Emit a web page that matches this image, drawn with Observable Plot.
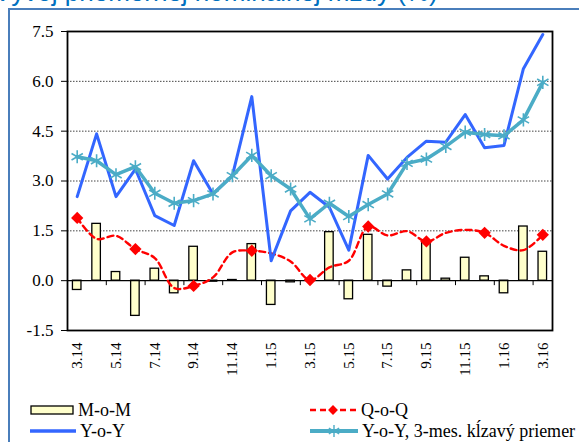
<!DOCTYPE html>
<html><head><meta charset="utf-8">
<script src="https://cdn.jsdelivr.net/npm/d3@7"></script>
<script src="https://cdn.jsdelivr.net/npm/@observablehq/plot@0.6"></script>
<style>
html,body{margin:0;padding:0;background:#fff;}
#wrap{position:relative;width:579px;height:442px;overflow:hidden;background:#fff;}
#title{position:absolute;left:-6px;top:-23px;font:26px "Liberation Sans",Arial,sans-serif;color:#0070C0;white-space:nowrap;line-height:30px;}
#frameL{position:absolute;left:8px;top:8px;width:2px;height:440px;background:#4A7EBB;}
#frameT{position:absolute;left:8px;top:8px;width:571px;height:2px;background:#4A7EBB;}
#chart{position:absolute;left:0;top:0;}
.leg{position:absolute;font:18px "Liberation Serif","Times New Roman",serif;color:#000;display:flex;align-items:center;white-space:nowrap;height:20px;}
.leg svg{display:block;margin-right:3px;}
</style></head>
<body><div id="wrap">
<div id="title">Vývoj priemernej nominálnej mzdy (%)</div>
<div id="frameL"></div><div id="frameT"></div>
<div id="chart"></div>
<div id="legend"></div>
</div>
<script>
const months = ["3.14","4.14","5.14","6.14","7.14","8.14","9.14","10.14","11.14","12.14","1.15","2.15","3.15","4.15","5.15","6.15","7.15","8.15","9.15","10.15","11.15","12.15","1.16","2.16","3.16"];
const mom = [-0.28, 1.71, 0.26, -1.06, 0.36, -0.38, 1.02, -0.03, 0.02, 1.10, -0.73, -0.05, 0.02, 1.46, -0.56, 1.38, -0.18, 0.31, 1.15, 0.06, 0.69, 0.13, -0.38, 1.63, 0.87];
const qoq = [1.89, 1.26, 1.35, 0.95, 0.68, -0.22, -0.16, 0.10, 0.85, 0.90, 0.82, 0.58, 0.02, 0.40, 0.60, 1.63, 1.36, 1.49, 1.18, 1.44, 1.53, 1.44, 1.05, 0.92, 1.38];
const yoy = [2.53, 4.42, 2.53, 3.36, 1.96, 1.66, 3.61, 2.61, 3.16, 5.54, 0.60, 2.10, 2.66, 2.21, 0.92, 3.77, 3.06, 3.71, 4.20, 4.17, 5.00, 4.00, 4.07, 6.38, 7.41];
const ma3 = [3.73, 3.61, 3.19, 3.43, 2.63, 2.33, 2.41, 2.61, 3.16, 3.77, 3.16, 2.76, 1.86, 2.33, 1.93, 2.29, 2.61, 3.53, 3.66, 4.04, 4.47, 4.40, 4.36, 4.84, 5.97];
const yTicks = [-1.5, 0, 1.5, 3.0, 4.5, 6.0, 7.5];
const gridVals = [1.5, 3.0, 4.5, 6.0];
const seriesNames = ["M-o-M", "Q-o-Q", "Y-o-Y", "Y-o-Y, 3-mes. kĺzavý priemer"];
const colors = {mom:"#FFFFCC", qoq:"#FF0000", yoy:"#3366FF", ma:"#4BACC6"};

const data = months.map((m, i) => ({i, m, mom: mom[i], qoq: qoq[i], yoy: yoy[i], ma: ma3[i]}));
const quarters = data.filter(d => d.i % 3 === 0);
const labelIdx = data.filter(d => d.i % 2 === 0).map(d => d.i);
const boundaries = data.filter(d => d.i % 2 === 1).map(d => d.i + 0.5);

const chart = Plot.plot({
  width: 579, height: 392,
  marginLeft: 67, marginRight: 27, marginTop: 31, marginBottom: 62,
  style: {fontFamily: '"Liberation Serif","Times New Roman",serif', fontSize: "16px", color: "#000", background: "transparent", overflow: "visible"},
  x: {type: "linear", domain: [-0.5, 24.5], label: null},
  y: {domain: [-1.5, 7.5], label: null},
  marks: [
    Plot.ruleY(gridVals, {stroke: "#444", strokeDasharray: "1.5,1.5", strokeWidth: 1}),
    Plot.rectY(data, {x1: d => d.i - 0.22, x2: d => d.i + 0.22, y1: 0, y2: "mom", fill: colors.mom, stroke: "#000", strokeWidth: 1.3}),
    Plot.ruleY([0], {stroke: "#000", strokeWidth: 1.3}),
    Plot.ruleX(boundaries, {x: d => d, y1: 0, y2: -0.15, stroke: "#000", strokeWidth: 1}),
    Plot.line(data, {x: "i", y: "qoq", stroke: colors.qoq, strokeWidth: 2.4, strokeDasharray: "6,4", curve: "catmull-rom"}),
    Plot.dot(quarters, {x: "i", y: "qoq", symbol: "square", rotate: 45, r: 4.9, fill: colors.qoq, stroke: "none"}),
    Plot.line(data, {x: "i", y: "yoy", stroke: colors.yoy, strokeWidth: 3}),
    Plot.line(data, {x: "i", y: "ma", stroke: colors.ma, strokeWidth: 3.5}),
    Plot.dot(data, {x: "i", y: "ma", symbol: "asterisk", r: 6.2, stroke: colors.ma, strokeWidth: 1.6}),
    Plot.axisY({ticks: yTicks, tickFormat: d => d.toFixed(1), tickSize: 6, tickPadding: 8, fontSize: 17}),
    Plot.axisX({ticks: labelIdx, tickFormat: i => months[i], tickRotate: -90, tickSize: 0, tickPadding: 12, fontSize: 15}),
    Plot.frame({stroke: "#000", strokeWidth: 1.8})
  ]
});
document.getElementById("chart").appendChild(chart);

// legend
const legend = document.getElementById("legend");
function item(left, top, swatch, label) {
  const div = document.createElement("div");
  div.className = "leg";
  div.style.left = left + "px";
  div.style.top = top + "px";
  div.innerHTML = swatch + "<span>" + label + "</span>";
  legend.appendChild(div);
}
const sw = (inner, w) => `<svg width="${w}" height="20" viewBox="0 0 ${w} 20">${inner}</svg>`;
const ast = (cx, cy, r, c) => {
  let s = "";
  for (let k = 0; k < 3; k++) {
    const a = Math.PI / 2 + k * Math.PI / 3;
    s += `<line x1="${cx - r*Math.cos(a)}" y1="${cy - r*Math.sin(a)}" x2="${cx + r*Math.cos(a)}" y2="${cy + r*Math.sin(a)}" stroke="${c}" stroke-width="1.4"/>`;
  }
  return s;
};
item(30, 400, sw(`<rect x="1" y="6" width="42" height="8" fill="${colors.mom}" stroke="#000" stroke-width="1.3"/>`, 45), seriesNames[0]);
item(310, 400, sw(`<line x1="0" y1="10" x2="47" y2="10" stroke="${colors.qoq}" stroke-width="2.4" stroke-dasharray="6,4"/><rect x="19.5" y="6.5" width="7" height="7" fill="${colors.qoq}" transform="rotate(45 23 10)"/>`, 48), seriesNames[1]);
item(30, 421, sw(`<line x1="0" y1="10" x2="46" y2="10" stroke="${colors.yoy}" stroke-width="3.5"/>`, 47), seriesNames[2]);
item(310, 421, sw(`<line x1="0" y1="10" x2="48" y2="10" stroke="${colors.ma}" stroke-width="4"/>` + ast(24, 10, 6, colors.ma), 49), seriesNames[3]);
</script>
</body></html>
